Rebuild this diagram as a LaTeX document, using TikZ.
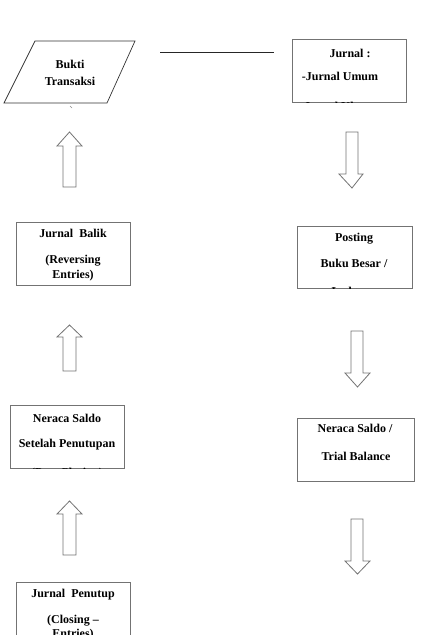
\documentclass[tikz,border=0pt]{standalone}
\usepackage{fontspec}
\setmainfont{Liberation Serif}
\begin{document}
\begin{tikzpicture}[x=1pt,y=-1pt,
  boxstyle/.style={draw=black!55,line width=0.9pt,rectangle,inner sep=0pt},
  lbl/.style={font=\fontsize{12}{14}\selectfont\bfseries,anchor=base,inner sep=0pt},
  blockarr/.style={draw=black!55,line width=0.8pt,fill=white,line join=miter}]
\useasboundingbox (0,0) rectangle (421,635);
\clip (0,0) rectangle (421,635);
% parallelogram
\draw[black!80,line width=0.7pt] (35,41) -- (135,41) -- (107,103) -- (4,103) -- cycle;
\node[lbl] (bukti) at (70,68) {Bukti};
\node[lbl] (transaksi) at (70,85) {Transaksi};
\draw[black!45,line width=0.6pt] (70,106) -- (72,108);
% line
\coordinate (l1) at (160,52.5);
\coordinate (l2) at (274,52.5);
\draw[black!85,line width=0.9pt] (l1) -- (l2);
% boxes
\node[boxstyle,minimum width=114pt,minimum height=63pt] (jurnal) at (349,70.5) {};
\node[boxstyle,minimum width=114pt,minimum height=63pt] (balik) at (73,253.5) {};
\node[boxstyle,minimum width=115pt,minimum height=62pt] (posting) at (354.5,257) {};
\node[boxstyle,minimum width=114pt,minimum height=63pt] (neracaL) at (67,436.5) {};
\node[boxstyle,minimum width=117pt,minimum height=63pt] (neracaR) at (355.5,449.5) {};
\node[boxstyle,minimum width=114pt,minimum height=78pt] (penutup) at (73,621) {};
% texts
\begin{scope}
\clip (jurnal.south west) rectangle (jurnal.north east);
\node[lbl] (j1) at (350,57) {Jurnal :};
\node[lbl] (j2) at (340,80) {-Jurnal Umum};
\node[lbl] (j3) at (340,110) {-Jurnal Khusus};
\end{scope}
\node[lbl] (b1) at (73,237) {Jurnal\ \ Balik};
\node[lbl] (b2) at (73,263) {(Reversing};
\node[lbl] (b3) at (73,278) {Entries)};
\begin{scope}
\clip (posting.south west) rectangle (posting.north east);
\node[lbl] (p1) at (354,241) {Posting};
\node[lbl] (p2) at (354,267) {Buku Besar /};
\node[lbl] (p3) at (350,295.5) {Ledger};
\end{scope}
\begin{scope}
\clip (neracaL.south west) rectangle (neracaL.north east);
\node[lbl] (n1) at (67,422) {Neraca Saldo};
\node[lbl] (n2) at (67,447) {Setelah Penutupan};
\node[lbl] (n3) at (67,476) {(Post Closing)};
\end{scope}
\node[lbl] (r1) at (355,432) {Neraca Saldo /};
\node[lbl] (r2) at (356,460) {Trial Balance};
\node[lbl] (c1) at (73,597) {Jurnal\ \ Penutup};
\node[lbl] (c2) at (73,623) {(Closing --};
\node[lbl] (c3) at (73,637.5) {Entries)};
% block arrows up (left)
\draw[blockarr] (69.5,132) -- (82,146) -- (76,146) -- (76,187) -- (63,187) -- (63,146) -- (57,146) -- cycle;
\draw[blockarr] (69.5,325) -- (82,337) -- (76,337) -- (76,371) -- (63,371) -- (63,337) -- (57,337) -- cycle;
\draw[blockarr] (69.5,501) -- (82,514) -- (76,514) -- (76,555) -- (63,555) -- (63,514) -- (57,514) -- cycle;
% block arrows down (right)
\draw[blockarr] (346,132) -- (358,132) -- (358,174) -- (363,174) -- (352,188) -- (339,174) -- (346,174) -- cycle;
\draw[blockarr] (351,331) -- (363,331) -- (363,373) -- (370,373) -- (357.5,387) -- (345,373) -- (351,373) -- cycle;
\draw[blockarr] (351,519) -- (363,519) -- (363,561) -- (370,561) -- (357.5,574) -- (345,561) -- (351,561) -- cycle;
\end{tikzpicture}
\end{document}
